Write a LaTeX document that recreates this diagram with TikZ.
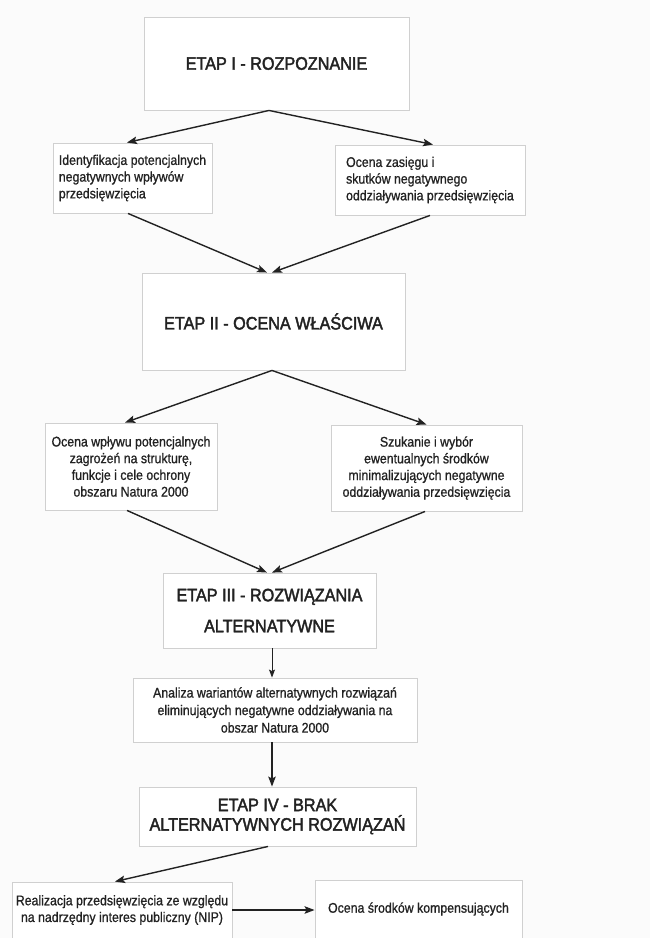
\documentclass[tikz,border=0pt]{standalone}
\usepackage{fontspec}
\setmainfont{Liberation Sans}
\newfontfamily\stagefont{Liberation Sans}[FakeStretch=0.9,FakeBold=2.2]
\newfontfamily\taskfont{Liberation Sans}[FakeStretch=0.88,FakeBold=0.9]
\usetikzlibrary{arrows.meta,positioning}
\definecolor{paper}{RGB}{251,251,251}
\definecolor{frame}{RGB}{208,208,208}
\definecolor{ink}{RGB}{34,34,34}

\begin{document}
\begin{tikzpicture}[x=1pt,y=-1pt,
  stage/.style={draw=frame,line width=.9pt,fill=white,align=center,text=ink,font=\stagefont\fontsize{18}{20}\selectfont},
  task/.style={draw=frame,line width=.9pt,fill=white,align=center,text=ink,font=\taskfont\fontsize{14}{16.7}\selectfont},
  flow/.style={draw=ink,line width=1.4pt,-{Stealth[length=10pt,width=7.5pt,inset=2pt]}}]
\useasboundingbox[fill=paper] (0,0) rectangle (650,938);
% etapy
\node[stage,minimum width=265,minimum height=93] (e1) at (276.5,63.5) {ETAP I - ROZPOZNANIE};
\node[stage,minimum width=263,minimum height=97] (e2) at (273.5,321.5) {ETAP II - OCENA WŁAŚCIWA};
\node[stage,minimum width=213,minimum height=75,font=\stagefont\fontsize{18}{31}\selectfont] (e3) at (269.5,610.5) {ETAP III - ROZWIĄZANIA\\ALTERNATYWNE};
\node[stage,minimum width=277,minimum height=59,font=\stagefont\fontsize{18}{19.5}\selectfont] (e4) at (277.5,816.5) {ETAP IV - BRAK\\ALTERNATYWNYCH ROZWIĄZAŃ};
% zadania
\node[task,align=left,minimum width=159,minimum height=70] (ident) at (132.5,178) {Identyfikacja potencjalnych\\negatywnych wpływów\\przedsięwzięcia};
\node[task,align=left,minimum width=190,minimum height=70] (zasieg) at (430,180) {Ocena zasięgu i\\skutków negatywnego\\oddziaływania przedsięwzięcia};
\node[task,minimum width=172,minimum height=87] (wplyw) at (131,466.5) {Ocena wpływu potencjalnych\\zagrożeń na strukturę,\\funkcje i cele ochrony\\obszaru Natura 2000};
\node[task,minimum width=191,minimum height=86] (szukanie) at (426.5,468) {Szukanie i wybór\\ewentualnych środków\\minimalizujących negatywne\\oddziaływania przedsięwzięcia};
\node[task,minimum width=284,minimum height=64,font=\taskfont\fontsize{14}{17.5}\selectfont] (analiza) at (275,710) {Analiza wariantów alternatywnych rozwiązań\\eliminujących negatywne oddziaływania na\\obszar Natura 2000};
\node[task,minimum width=220,minimum height=56] (nip) at (122,910) {Realizacja przedsięwzięcia ze względu\\na nadrzędny interes publiczny (NIP)};
\node[task,minimum width=207,minimum height=58] (kompens) at (418.5,909) {Ocena środków kompensujących};
% strzalki
\draw[flow] ([xshift=-7.5pt]e1.south) -- ([xshift=-5.5pt]ident.north);
\draw[flow] ([xshift=-7.5pt]e1.south) -- ([xshift=3pt]zasieg.north);
\draw[flow] ([xshift=-4.5pt]ident.south) -- ([xshift=-6.5pt]e2.north);
\draw[flow] (zasieg.south) -- ([xshift=-1.5pt]e2.north);
\draw[flow] ([xshift=-1.5pt]e2.south) -- ([xshift=-6pt]wplyw.north);
\draw[flow] ([xshift=-1.5pt]e2.south) -- (szukanie.north);
\draw[flow] ([xshift=-4pt]wplyw.south) -- ([xshift=-2.5pt]e3.north);
\draw[flow] ([xshift=-1.5pt]szukanie.south) -- ([xshift=2.5pt]e3.north);
\draw[flow,line width=.9pt,-{Stealth[length=8pt,width=6pt,inset=1.5pt]}] ([xshift=2.5pt]e3.south) -- ([xshift=-3pt]analiza.north);
\draw[flow] ([xshift=-3pt]analiza.south) -- ([xshift=-5.5pt]e4.north);
\draw[flow] ([xshift=-9.5pt]e4.south) -- ([xshift=-7pt]nip.north);
\draw[flow] (nip.east) -- (nip.east -| kompens.west);
\end{tikzpicture}
\end{document}
